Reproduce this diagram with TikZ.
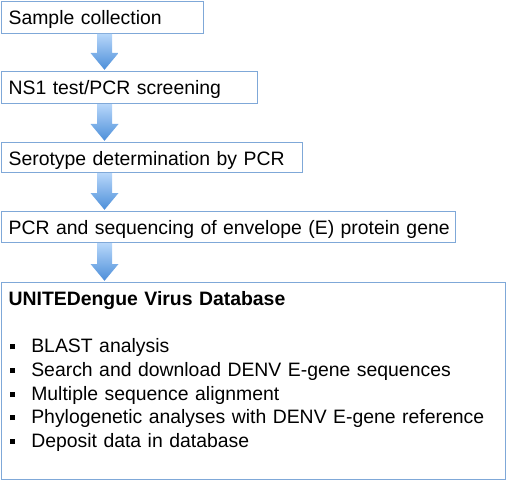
\documentclass[tikz,border=0pt]{standalone}
\usepackage{fontspec}
\setmainfont{Liberation Sans}
\usetikzlibrary{calc,positioning}
\definecolor{boxline}{HTML}{7FA8D8}
\definecolor{arrowtop}{HTML}{B7D7FA}
\definecolor{arrowbot}{HTML}{4C8ED9}
\tikzset{
  every picture/.style={line join=miter},
  stepbox/.style={draw=boxline, line width=0.6pt, anchor=north west, align=left,
    inner xsep=3.5pt, inner ysep=0pt, text height=11.5pt, text depth=4.5pt,
    font=\fontsize{9.7}{11.8}\selectfont},
  dbbox/.style={stepbox, text depth=87pt},
  fatarrow/.style={top color=arrowtop, bottom color=arrowbot, draw=none},
}
\newcommand{\bul}{\makebox[11.35pt][l]{\hspace{0.6pt}\raisebox{1.7pt}{\rule{2.5pt}{2.5pt}}}}
\newcommand{\flowarrow}[2]{%
  \path[fatarrow] let \p1=(#1.south), \p2=(#2.north), \p3=(spine) in
    (\x3-3.75pt,\y1) -- (\x3+3.75pt,\y1) -- (\x3+3.75pt,\y2+9pt) -- (\x3+7pt,\y2+9pt)
    -- (\x3,\y2+0.6pt) -- (\x3-7pt,\y2+9pt) -- (\x3-3.75pt,\y2+9pt) -- cycle;}

\begin{document}
\begin{tikzpicture}[x=0.5pt, y=-0.5pt]
\useasboundingbox (0,0) rectangle (506,480);
\coordinate (spine) at (104.5,0);
% the steps
\node[stepbox, text width=94pt] (collect) at (1,0.6) {Sample collection};
\node[stepbox, text width=121pt] (screen) at (1,71) {NS1 test/PCR screening};
\node[stepbox, text width=143.5pt, text depth=3.5pt] (sero) at (1,142) {Serotype determination by PCR};
\node[stepbox, text width=220pt, text depth=4pt] (seq) at (1,211)
  {\mbox{PCR and sequencing of envelope (E) protein gene}};
% the database
\node[dbbox, text width=245pt] (db) at (1,282)
  {\textbf{UNITEDengue Virus Database}\\[11.8pt]
   \bul BLAST analysis\\
   \bul Search and download DENV E-gene sequences\\
   \bul Multiple sequence alignment\\
   \bul Phylogenetic analyses with DENV E-gene reference\\
   \bul Deposit data in database};
% arrows between the steps
\flowarrow{collect}{screen}
\flowarrow{screen}{sero}
\flowarrow{sero}{seq}
\flowarrow{seq}{db}
\end{tikzpicture}
\end{document}
